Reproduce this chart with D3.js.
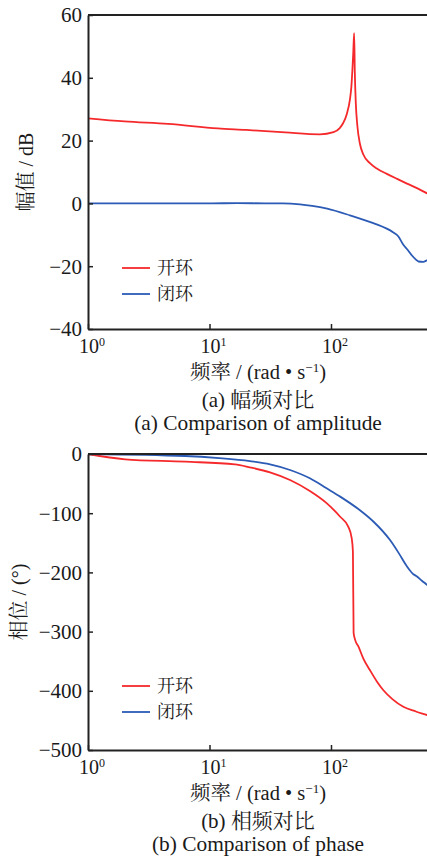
<html>
<head>
<meta charset="utf-8">
<script src="https://cdn.jsdelivr.net/npm/d3@7"></script>
</head>
<body style="margin:0">
<svg id="fig" width="427" height="860"></svg>
<script>
// Axis ticks
const freqTicks = [1, 10, 100];
const freqExponents = ["0", "1", "2"];
const magTicks = [60, 40, 20, 0, -20, -40];
const phaseTicks = [0, -100, -200, -300, -400, -500];
const seriesNames = ["开环", "闭环"];

// Open-loop magnitude (dB)
const magOpenFreq = [1, 2, 4.55, 11.7, 20, 42, 81, 105, 118, 126, 135, 143, 147, 150, 152.5, 155, 157, 160, 165, 173, 185, 209, 240, 288, 350, 422, 520, 617, 660];
const magOpenDb   = [27.1, 26.1, 25.3, 23.9, 23.4, 22.6, 22.0, 22.7, 24.0, 25.6, 28.5, 33.0, 37.0, 42.5, 48.0, 54.2, 42.0, 32.0, 24.5, 19.0, 15.5, 12.8, 11.0, 9.4, 7.8, 6.3, 4.7, 3.2, 2.6];

// Closed-loop magnitude (dB)
const magClosedFreq = [1, 5, 10, 17, 30, 40, 55.6, 70, 93, 143, 223, 324, 360, 390, 430, 464, 500, 525, 574, 617, 660];
const magClosedDb   = [0, 0, 0, 0.1, 0, 0, -0.3, -0.8, -1.7, -3.8, -6.3, -9.2, -10.6, -12.9, -14.9, -16.6, -17.9, -18.5, -18.6, -18.1, -17.6];

// Open-loop phase (deg)
const phaseOpenFreq = [1, 2.02, 6.3, 16.2, 21.5, 31.5, 46, 67, 92, 119, 139, 148, 151.5, 153.5, 158, 168, 185, 209, 240, 270, 320, 394, 500, 617, 660];
const phaseOpenDeg  = [0, -9, -13, -17.5, -22.5, -31, -44, -62.5, -83, -106, -123, -142, -165, -302, -314, -325, -346, -365, -385, -399, -414, -427, -435, -441, -443];

// Closed-loop phase (deg)
const phaseClosedFreq = [1, 6.3, 12, 21.5, 31.5, 46, 67, 92, 119, 173, 223, 305, 360, 422, 470, 510, 560, 617, 660];
const phaseClosedDeg  = [0, -3.4, -7, -12, -17.5, -27, -41, -58, -72, -95, -114, -145, -167, -190, -202, -207, -214, -221, -226];

const colors = ["#f5292b", "#2c5bb5"];
const LATIN = "Liberation Serif";
const CJK = "Noto Serif CJK SC";

const svg = d3.select("#fig").style("font-family", `"${LATIN}"`);
const left = 88, rightEdge = 427;
const x = d3.scaleLog().domain([1, 1000]).range([left, left + 3 * 121.5]);

// Text built from runs: { t, cjk, sup }
function richText(g, parts, size, supSize) {
  const t = g.append("text").attr("fill", "#1a1a1a").attr("font-size", size)
    .style("font-family", `"${LATIN}"`);
  let raised = false;
  parts.forEach(p => {
    const s = t.append("tspan").text(p.t);
    if (p.cjk) s.style("font-family", `"${CJK}"`);
    if (p.sup && !raised) { s.attr("dy", -7).attr("font-size", supSize || Math.round(size * 0.62)); raised = true; }
    else if (!p.sup && raised) { s.attr("dy", 7); raised = false; }
  });
  return t;
}

function panel(opts) {
  const { top, bottom, yDomain, yTicks, series, yLabel, yLabelX, legendY, caption1, caption2, id } = opts;
  const y = d3.scaleLinear().domain(yDomain).range([bottom, top]);
  const g = svg.append("g");

  g.append("clipPath").attr("id", id)
    .append("rect").attr("x", left).attr("y", top - 2).attr("width", rightEdge - left).attr("height", bottom - top + 4);

  // Data lines
  const line = d3.line()
    .x(d => x(d[0])).y(d => y(d[1]))
    .curve(d3.curveMonotoneX);
  series.forEach((s, i) => {
    const pts = s.f.map((f, k) => [f, s.v[k]]);
    g.append("path")
      .attr("d", line(pts))
      .attr("fill", "none")
      .attr("stroke", colors[i])
      .attr("stroke-width", 1.8)
      .attr("clip-path", `url(#${id})`);
  });

  // Frame: top border, bottom axis, left axis
  g.append("line").attr("x1", left).attr("x2", rightEdge).attr("y1", top).attr("y2", top)
    .attr("stroke", "#222").attr("stroke-width", 2);

  const xAxis = d3.axisBottom(x).tickValues(freqTicks).tickSizeInner(-5).tickSizeOuter(0).tickFormat("");
  const xg = g.append("g").attr("transform", `translate(0,${bottom})`).call(xAxis);
  xg.select(".domain").attr("stroke", "#222").attr("stroke-width", 2);
  xg.selectAll(".tick line").attr("stroke", "#222").attr("stroke-width", 1.5);

  const yAxis = d3.axisLeft(y).tickValues(yTicks).tickSizeInner(-5).tickSizeOuter(0).tickFormat("");
  const yg = g.append("g").attr("transform", `translate(${left},0)`).call(yAxis);
  yg.select(".domain").attr("stroke", "#222").attr("stroke-width", 2);
  yg.selectAll(".tick line").attr("stroke", "#222").attr("stroke-width", 1.5);

  // Y tick labels
  yTicks.forEach(d => {
    richText(g, [{ t: d < 0 ? "\u2212" + Math.abs(d) : String(d) }], 21)
      .attr("x", left - 6).attr("y", y(d)).attr("dy", "0.35em").attr("text-anchor", "end");
  });

  // X tick labels as powers of ten
  freqTicks.forEach((f, i) => {
    richText(g, [{ t: "10" }, { t: freqExponents[i], sup: true }], 20, 12)
      .attr("x", x(f) + 4).attr("y", bottom + 24).attr("text-anchor", "middle");
  });

  // X axis title
  richText(g, [{ t: "频率", cjk: true }, { t: " / (rad • s" }, { t: "\u22121", sup: true }, { t: ")" }], 20.5)
    .attr("x", 258).attr("y", bottom + 50).attr("text-anchor", "middle");

  // Y axis title
  richText(g, yLabel, 20)
    .attr("transform", `translate(${yLabelX},${(top + bottom) / 2}) rotate(-90)`)
    .attr("text-anchor", "middle").attr("dy", "0.35em");

  // Legend
  seriesNames.forEach((name, i) => {
    const ly = legendY + i * 26;
    g.append("line").attr("x1", 122).attr("x2", 150).attr("y1", ly).attr("y2", ly)
      .attr("stroke", colors[i]).attr("stroke-width", 1.8);
    richText(g, [{ t: name, cjk: true }], 18)
      .attr("x", 157).attr("y", ly).attr("dy", "0.36em");
  });

  // Captions
  richText(g, caption1, 21).attr("x", 258).attr("y", bottom + 78).attr("text-anchor", "middle");
  richText(g, caption2, 21.4).attr("x", 258).attr("y", bottom + 101).attr("text-anchor", "middle");
}

panel({
  id: "clipMag", top: 15, bottom: 329, yDomain: [-40, 60], yTicks: magTicks,
  series: [{ f: magOpenFreq, v: magOpenDb }, { f: magClosedFreq, v: magClosedDb }],
  yLabel: [{ t: "幅值", cjk: true }, { t: " / dB" }], yLabelX: 26, legendY: 268,
  caption1: [{ t: "(a)  " }, { t: "幅频对比", cjk: true }],
  caption2: [{ t: "(a)  Comparison of amplitude" }]
});

panel({
  id: "clipPhase", top: 454, bottom: 750, yDomain: [-500, 0], yTicks: phaseTicks,
  series: [{ f: phaseOpenFreq, v: phaseOpenDeg }, { f: phaseClosedFreq, v: phaseClosedDeg }],
  yLabel: [{ t: "相位", cjk: true }, { t: " / (°)" }], yLabelX: 19, legendY: 686,
  caption1: [{ t: "(b)  " }, { t: "相频对比", cjk: true }],
  caption2: [{ t: "(b)  Comparison of phase" }]
});
</script>
</body>
</html>
